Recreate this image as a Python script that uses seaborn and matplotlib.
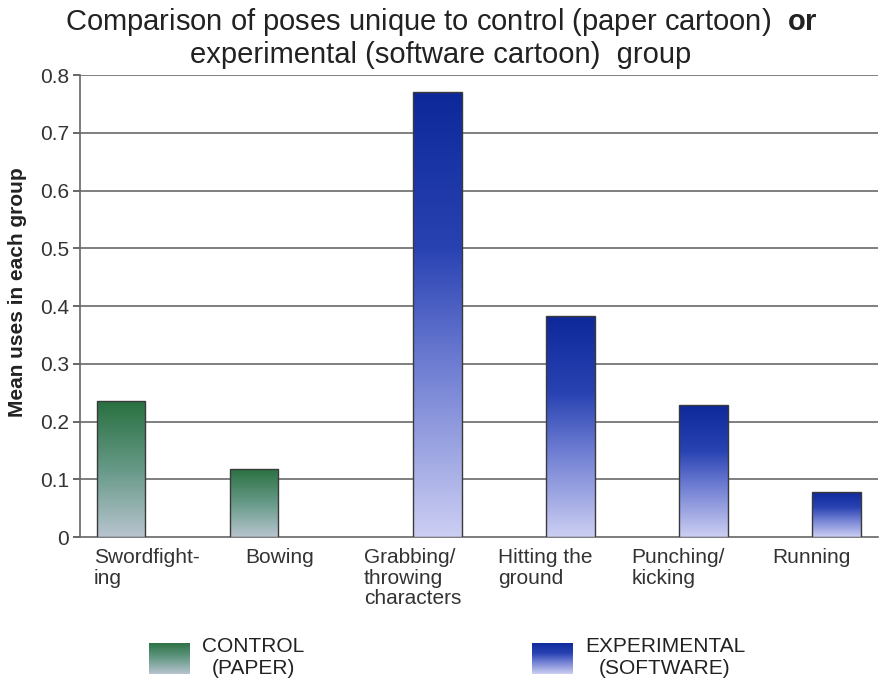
import numpy as np
import pandas as pd
import matplotlib
matplotlib.use("Agg")
import matplotlib.pyplot as plt
from matplotlib.colors import LinearSegmentedColormap
from matplotlib.patches import Patch
import seaborn as sns

categories = ["Swordfight-\ning", "Bowing", "Grabbing/\nthrowing\ncharacters",
              "Hitting the\nground", "Punching/\nkicking", "Running"]
control = [0.235, 0.118, 0, 0, 0, 0]
experimental = [0, 0, 0.77, 0.383, 0.229, 0.078]
groups = ["CONTROL\n(PAPER)", "EXPERIMENTAL\n(SOFTWARE)"]
y_ticks = [0, 0.1, 0.2, 0.3, 0.4, 0.5, 0.6, 0.7, 0.8]
y_labels = ["0", "0.1", "0.2", "0.3", "0.4", "0.5", "0.6", "0.7", "0.8"]

df = pd.DataFrame({
    "cat": categories * 2,
    "group": [groups[0]] * 6 + [groups[1]] * 6,
    "val": control + experimental,
})

sns.set_theme(style="white")
plt.rcParams["font.family"] = ["Liberation Sans", "DejaVu Sans"]
plt.rcParams["mathtext.fontset"] = "custom"
plt.rcParams["mathtext.rm"] = "Liberation Sans"
plt.rcParams["mathtext.bf"] = "Liberation Sans:bold"

green_cm = LinearSegmentedColormap.from_list(
    "g", [(0, (0.72, 0.77, 0.81)), (0.5, (0.40, 0.60, 0.53)), (1, (0.16, 0.44, 0.25))])
blue_cm = LinearSegmentedColormap.from_list(
    "b", [(0, (0.80, 0.81, 0.95)), (0.4, (0.42, 0.48, 0.82)),
          (0.65, (0.16, 0.26, 0.70)), (1, (0.05, 0.16, 0.60))])
cmaps = {groups[0]: green_cm, groups[1]: blue_cm}

fig = plt.figure(figsize=(8.82, 6.87), dpi=100)
ax = fig.add_axes([0.0907, 0.2183, 0.9043, 0.6725])

sns.barplot(data=df, x="cat", y="val", hue="group", hue_order=groups,
            palette={groups[0]: "#4f8a5f", groups[1]: "#2a3fa8"},
            width=0.76, gap=0.04, edgecolor="#3a3a3a", linewidth=1,
            ax=ax, legend=False, zorder=3)

# gradient fill clipped to each bar
grad = np.linspace(0, 1, 256).reshape(-1, 1)
for container, g in zip(ax.containers, groups):
    for bar in container:
        h = bar.get_height()
        if not h:
            bar.set_visible(False)
            continue
        x0 = bar.get_x()
        w = bar.get_width()
        im = ax.imshow(grad, cmap=cmaps[g], origin="lower", aspect="auto",
                       extent=[x0, x0 + w, 0, h], zorder=3.5)
        im.set_clip_path(bar)
        bar.set_facecolor("none")
        bar.set_zorder(4)

ax.set_xlim(-0.5, 5.5)
ax.set_ylim(0, 0.8)
ax.set_yticks(y_ticks)
ax.set_yticklabels(y_labels)
for y in y_ticks[1:]:
    ax.axhline(y, color="#6a6a6a", lw=1.2, zorder=1)

ax.set_xticks(range(6))
ax.set_xticklabels(categories, ha="center", va="top", multialignment="left",
                   linespacing=1.1)
ax.set_xticks(np.arange(-0.5, 6, 1), minor=True)
ax.tick_params(axis="x", which="major", length=0, pad=8, labelsize=15, labelcolor="#333333")
ax.tick_params(axis="x", which="minor", length=4, color="#555555", direction="out")
ax.tick_params(axis="y", length=5, color="#555555", direction="out", left=True,
               labelsize=15, labelcolor="#333333", pad=3)
ax.set_xlabel("")
ax.set_ylabel("Mean uses in each group", fontsize=15, fontweight="bold", color="#222222")
ax.yaxis.set_label_coords(-0.066, 0.53)

for s in ["top", "right"]:
    ax.spines[s].set_visible(False)
for s in ["left", "bottom"]:
    ax.spines[s].set_color("#666666")
    ax.spines[s].set_linewidth(1.2)

fig.text(0.5, 0.968, "Comparison of poses unique to control (paper cartoon)  $\\mathbf{or}$",
         ha="center", va="center", fontsize=21, color="#222222")
fig.text(0.5, 0.92, "experimental (software cartoon)  group",
         ha="center", va="center", fontsize=21, color="#222222")

handles = [Patch(facecolor=green_cm(0.6), edgecolor="none"),
           Patch(facecolor=blue_cm(0.6), edgecolor="none")]
leg = fig.legend(handles, groups, loc="center", bbox_to_anchor=(0.507, 0.043), ncol=2,
                 frameon=False, fontsize=15, handlelength=1.95, handleheight=1.95,
                 columnspacing=10.9, handletextpad=0.6)
for t in leg.get_texts():
    t.set_multialignment("center")
    t.set_color("#222222")

fig.canvas.draw()
inv = fig.transFigure.inverted()
for p, g in zip(leg.get_patches(), groups):
    bb = p.get_window_extent().transformed(inv)
    lax = fig.add_axes([bb.x0, bb.y0, bb.width, bb.height])
    lax.imshow(grad, cmap=cmaps[g], origin="lower", aspect="auto")
    lax.axis("off")
    p.set_visible(False)

fig.savefig("out.png", dpi=100)
